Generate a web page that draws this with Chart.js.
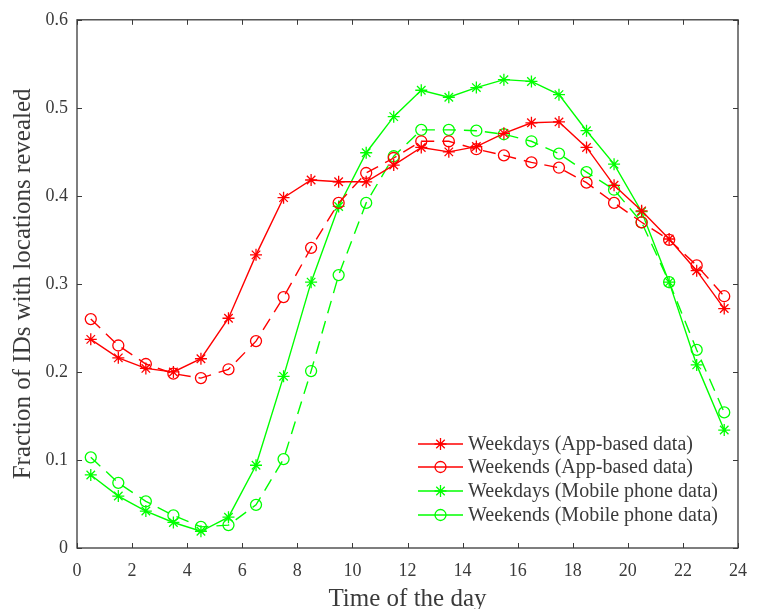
<!DOCTYPE html>
<html>
<head>
<meta charset="utf-8">
<script src="https://cdn.jsdelivr.net/npm/chart.js@4"></script>
<style>
html,body{margin:0;padding:0;background:#fff;}
#wrap{width:759px;height:609px;}
</style>
</head>
<body>
<div id="wrap"><canvas id="c" width="759" height="609"></canvas></div>
<script>
// ---- data ----
const hours = [0.5,1.5,2.5,3.5,4.5,5.5,6.5,7.5,8.5,9.5,10.5,11.5,12.5,13.5,14.5,15.5,16.5,17.5,18.5,19.5,20.5,21.5,22.5,23.5];
const weekdaysApp = [0.237,0.216,0.204,0.200,0.215,0.261,0.333,0.398,0.418,0.416,0.416,0.435,0.455,0.450,0.456,0.471,0.483,0.484,0.455,0.412,0.383,0.351,0.315,0.272];
const weekendsApp = [0.260,0.230,0.209,0.198,0.193,0.203,0.235,0.285,0.341,0.392,0.426,0.443,0.462,0.462,0.453,0.446,0.438,0.432,0.415,0.392,0.370,0.350,0.321,0.286];
const weekdaysMobile = [0.083,0.059,0.042,0.029,0.019,0.035,0.094,0.195,0.302,0.388,0.449,0.490,0.520,0.512,0.523,0.532,0.530,0.515,0.474,0.436,0.382,0.302,0.208,0.134];
const weekendsMobile = [0.103,0.074,0.053,0.037,0.024,0.026,0.049,0.101,0.201,0.310,0.392,0.445,0.475,0.475,0.474,0.470,0.462,0.448,0.427,0.407,0.370,0.302,0.225,0.154];
const seriesNames = ['Weekdays (App-based data)','Weekends (App-based data)','Weekdays (Mobile phone data)','Weekends (Mobile phone data)'];
const xTickValues = [0,2,4,6,8,10,12,14,16,18,20,22,24];
const yTickValues = [0,0.1,0.2,0.3,0.4,0.5,0.6];
const yTickLabels = ['0','0.1','0.2','0.3','0.4','0.5','0.6'];
const xTitle = 'Time of the day';
const yTitle = 'Fraction of IDs with locations revealed';

const RED = '#ff0000', GREEN = '#00ff00';
const TEXT = '#3a3a3a', AXIS = '#3a3a3a';
const SERIF = '"Liberation Serif","DejaVu Serif",serif';

function pts(arr){ return hours.map((h,i)=>({x:h,y:arr[i]})); }
function ds(label, arr, color, style, dashed){
  return {
    label, data: pts(arr), borderColor: color, backgroundColor: 'rgba(0,0,0,0)',
    borderWidth: 1.4, borderDash: dashed ? [13,8] : [],
    pointStyle: style, pointRadius: style === 'star' ? 6 : 5.5,
    pointBorderColor: color, pointBackgroundColor: 'rgba(0,0,0,0)', pointBorderWidth: 1.3,
    tension: 0, showLine: true
  };
}

const frameAndLegend = {
  id: 'frameAndLegend',
  afterDraw(chart){
    const ctx = chart.ctx, a = chart.chartArea;
    const xs = chart.scales.x, ys = chart.scales.y;
    ctx.save();
    ctx.strokeStyle = AXIS; ctx.lineWidth = 1.3;
    ctx.strokeRect(a.left, a.top, a.right - a.left, a.bottom - a.top);
    ctx.lineWidth = 1;
    const tl = 5;
    ctx.beginPath();
    xTickValues.forEach(v=>{
      const p = Math.round(xs.getPixelForValue(v)) + 0.5;
      ctx.moveTo(p, a.bottom); ctx.lineTo(p, a.bottom - tl);
      ctx.moveTo(p, a.top); ctx.lineTo(p, a.top + tl);
    });
    yTickValues.forEach(v=>{
      const p = Math.round(ys.getPixelForValue(v)) + 0.5;
      ctx.moveTo(a.left, p); ctx.lineTo(a.left + tl, p);
      ctx.moveTo(a.right, p); ctx.lineTo(a.right - tl, p);
    });
    ctx.stroke();
    // legend (line + marker + label), placed inside the axes, lower right
    const lx0 = 418, lx1 = 463, tx = 468;
    const rows = [444, 467, 491, 515];
    ctx.font = '20px ' + SERIF;
    ctx.textBaseline = 'middle';
    ctx.textAlign = 'left';
    chart.data.datasets.forEach((d,i)=>{
      const y = rows[i];
      ctx.strokeStyle = d.borderColor; ctx.lineWidth = 1.4; ctx.setLineDash([]);
      ctx.beginPath(); ctx.moveTo(lx0, y); ctx.lineTo(lx1, y); ctx.stroke();
      ctx.lineWidth = 1.3;
      ctx.fillStyle = 'rgba(0,0,0,0)';
      Chart.helpers.drawPoint(ctx, {pointStyle: d.pointStyle, radius: d.pointRadius, rotation: 0, borderWidth: 1.3}, (lx0+lx1)/2, y);
      ctx.fillStyle = TEXT;
      ctx.fillText(seriesNames[i], tx, y + 1);
    });
    ctx.restore();
  }
};

new Chart(document.getElementById('c'), {
  type: 'line',
  data: {
    datasets: [
      ds(seriesNames[0], weekdaysApp, RED, 'star', false),
      ds(seriesNames[1], weekendsApp, RED, 'circle', true),
      ds(seriesNames[2], weekdaysMobile, GREEN, 'star', false),
      ds(seriesNames[3], weekendsMobile, GREEN, 'circle', true)
    ]
  },
  options: {
    responsive: false, animation: false, devicePixelRatio: 1,
    layout: { padding: { top: 19, right: 12, left: 0, bottom: 0 } },
    plugins: { legend: { display: false }, tooltip: { enabled: false } },
    scales: {
      x: {
        type: 'linear', min: 0, max: 24,
        afterBuildTicks: s => { s.ticks = xTickValues.map(v=>({value:v})); },
        afterFit: s => { s.height = 61; },
        grid: { display: false, drawTicks: false },
        border: { display: false },
        ticks: { color: TEXT, font: { family: SERIF, size: 18 }, padding: 12, maxRotation: 0, autoSkip: false,
                 callback: v => String(v) },
        title: { display: true, text: xTitle, color: TEXT, font: { family: SERIF, size: 25 }, padding: { top: 0, bottom: -5 } }
      },
      y: {
        type: 'linear', min: 0, max: 0.6,
        afterBuildTicks: s => { s.ticks = yTickValues.map(v=>({value:v})); },
        afterFit: s => { s.width = 77; },
        grid: { display: false, drawTicks: false },
        border: { display: false },
        ticks: { color: TEXT, font: { family: SERIF, size: 18 }, padding: 9, autoSkip: false,
                 callback: (v, i) => yTickLabels[i] },
        title: { display: true, text: yTitle, color: TEXT, font: { family: SERIF, size: 25 }, padding: { top: 8, bottom: 0 } }
      }
    }
  },
  plugins: [frameAndLegend]
});
</script>
</body>
</html>
